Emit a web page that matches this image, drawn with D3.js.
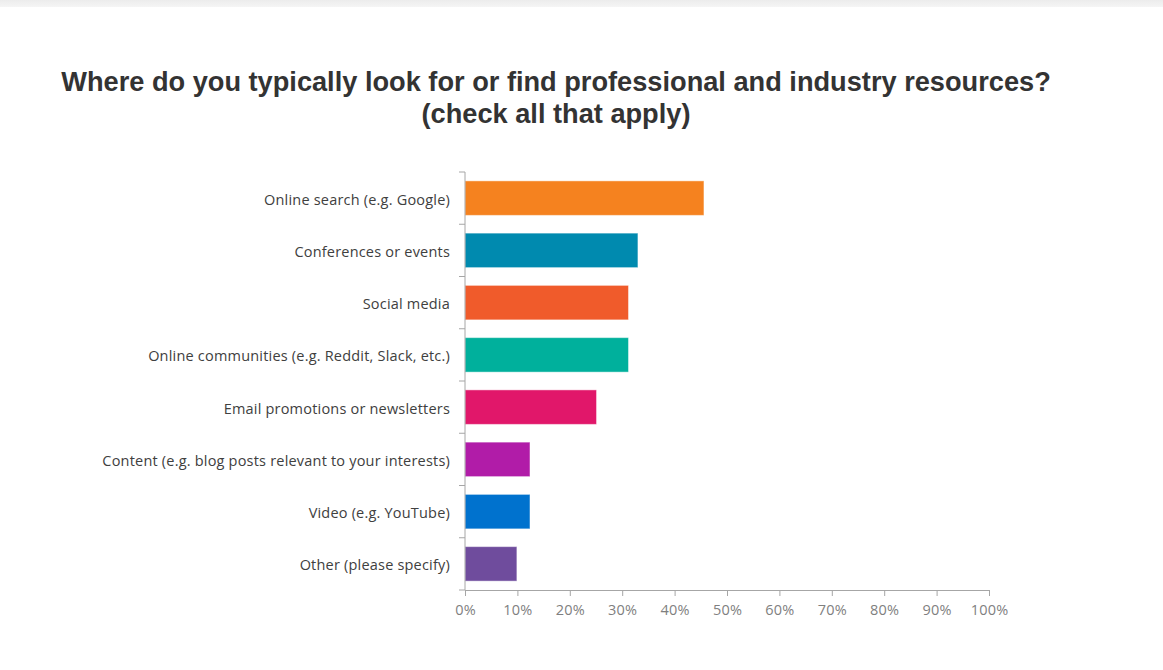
<!DOCTYPE html>
<html>
<head>
<meta charset="utf-8">
<script src="https://cdn.jsdelivr.net/npm/d3@7"></script>
<style>
  html, body { margin: 0; padding: 0; background: #fff; }
  svg { display: block; }
</style>
</head>
<body>
<svg id="chart" width="1163" height="670"></svg>
<script>
// Survey answers, percent of respondents
const categories = [
  "Online search (e.g. Google)",
  "Conferences or events",
  "Social media",
  "Online communities (e.g. Reddit, Slack, etc.)",
  "Email promotions or newsletters",
  "Content (e.g. blog posts relevant to your interests)",
  "Video (e.g. YouTube)",
  "Other (please specify)"
];
const values = [45.6, 33.0, 31.2, 31.2, 25.1, 12.4, 12.4, 9.9];
const barColors = ["#f5821f", "#008aaf", "#f05b2b", "#00b09c", "#e1176a", "#b11ca8", "#0072ce", "#6f4c9d"];
const xTicks = [0, 10, 20, 30, 40, 50, 60, 70, 80, 90, 100];
const titleLines = [
  "Where do you typically look for or find professional and industry resources?",
  "(check all that apply)"
];

const svg = d3.select("#chart");

// thin grey band along the top edge
const grad = svg.append("defs").append("linearGradient")
  .attr("id", "topband").attr("x1", 0).attr("y1", 0).attr("x2", 0).attr("y2", 1);
grad.append("stop").attr("offset", 0).attr("stop-color", "#ececec");
grad.append("stop").attr("offset", 1).attr("stop-color", "#f5f5f5");
svg.append("rect").attr("x", 0).attr("y", 0).attr("width", 1163).attr("height", 7)
  .attr("fill", "url(#topband)");

// title
svg.append("g").selectAll("text").data(titleLines).join("text")
  .attr("x", 556)
  .attr("y", (d, i) => 91 + i * 32)
  .attr("text-anchor", "middle")
  .attr("font-family", "Liberation Sans, Arial, sans-serif")
  .attr("font-weight", "bold")
  .attr("font-size", 27.2)
  .attr("fill", "#333333")
  .text(d => d);

const plotLeft = 465, plotRight = 989, plotTop = 172, plotBottom = 590;

const x = d3.scaleLinear().domain([0, 100]).range([plotLeft, plotRight]);
const y = d3.scaleBand().domain(categories).range([plotTop, plotBottom]).paddingInner(0.34).paddingOuter(0.17);

// bars
svg.append("g").selectAll("rect").data(categories).join("rect")
  .attr("x", x(0))
  .attr("y", d => y(d))
  .attr("width", (d, i) => x(values[i]) - x(0))
  .attr("height", y.bandwidth())
  .attr("fill", (d, i) => barColors[i])
  .attr("stroke", "rgba(255,255,255,0.45)")
  .attr("stroke-width", 1);

// x axis
const xAxis = svg.append("g")
  .attr("transform", `translate(0,${plotBottom})`)
  .call(d3.axisBottom(x).tickValues(xTicks).tickFormat(d => d + "%").tickSize(6).tickSizeOuter(0));
xAxis.select(".domain").attr("stroke", "#a6a6a6");
xAxis.selectAll(".tick line").attr("stroke", "#a6a6a6");
xAxis.selectAll(".tick text")
  .attr("fill", "#7f7f7f")
  .attr("font-family", "Open Sans, sans-serif")
  .attr("font-size", 14.5)
  .attr("letter-spacing", 0.2)
  .attr("dy", "0.71em")
  .attr("y", 15);

// y axis: ticks sit on category boundaries
const yAxisG = svg.append("g").attr("transform", `translate(${plotLeft},0)`);
yAxisG.append("line").attr("x1", 0).attr("x2", 0).attr("y1", plotTop).attr("y2", plotBottom)
  .attr("stroke", "#a6a6a6");
const step = (plotBottom - plotTop) / categories.length;
yAxisG.selectAll("line.tk").data(d3.range(categories.length + 1)).join("line")
  .attr("class", "tk")
  .attr("x1", -6).attr("x2", 0)
  .attr("y1", i => plotTop + i * step).attr("y2", i => plotTop + i * step)
  .attr("stroke", "#a6a6a6");
yAxisG.selectAll("text").data(categories).join("text")
  .attr("x", -15)
  .attr("y", d => y(d) + y.bandwidth() / 2 + 1.5)
  .attr("dy", "0.35em")
  .attr("text-anchor", "end")
  .attr("font-family", "Open Sans, sans-serif")
  .attr("font-size", 14.5)
  .attr("letter-spacing", 0.2)
  .attr("fill", "#404040")
  .text(d => d);
</script>
</body>
</html>
